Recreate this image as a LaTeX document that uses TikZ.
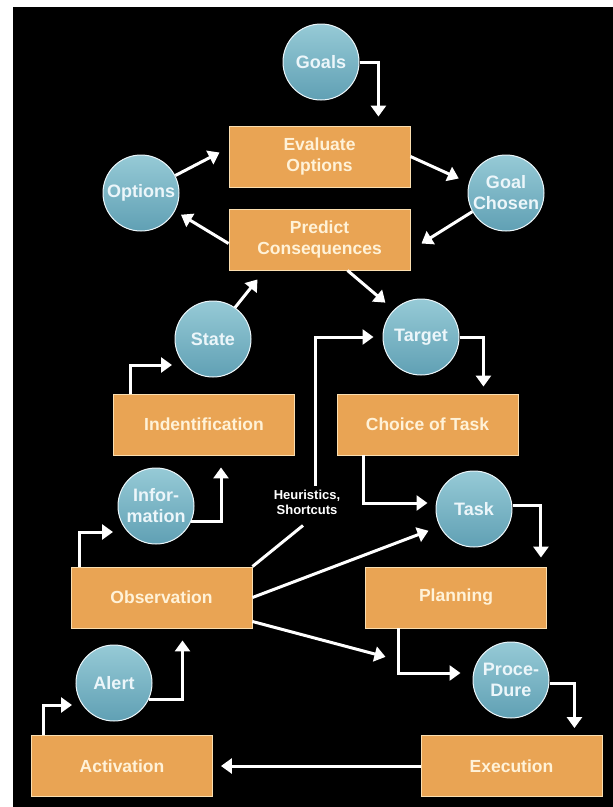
\documentclass[tikz,border=0pt]{standalone}
\usepackage{fontspec}
\setmainfont{Liberation Sans}
\usepackage{tikz}
\usetikzlibrary{arrows.meta, positioning, calc}
\definecolor{myorange}{RGB}{233,164,84}
\definecolor{myedge}{RGB}{250,222,176}
\definecolor{mybluetop}{RGB}{150,202,214}
\definecolor{mybluebot}{RGB}{96,160,180}
\definecolor{mytext}{RGB}{255,242,216}
\definecolor{mycirctext}{RGB}{236,246,250}
\tikzset{
  box/.style={rectangle, draw=myedge, fill=myorange, line width=0.9pt,
    minimum width=181pt, minimum height=61pt, align=center,
    font=\fontsize{17.5}{21}\selectfont\bfseries, text=mytext, inner sep=0pt},
  circ/.style={circle, draw=mycirctext, top color=mybluetop, bottom color=mybluebot,
    line width=1pt, minimum size=76pt, inner sep=0pt, align=center,
    font=\fontsize{18}{21}\selectfont\bfseries, text=mycirctext},
  arrow/.style={-{Triangle[width=15pt,length=11pt]}, line width=3pt, color=white},
  line/.style={line width=3pt, color=white}
}
\begin{document}
\begin{tikzpicture}[x=1pt, y=-1pt]
  \useasboundingbox (0,0) rectangle (613,807);
  \fill[white] (0,0) rectangle (613,807);
  \fill[black] (13,7) rectangle (613,807);
  % Decision part
  \node[circ] (goals) at (321,62) {Goals};
  \node[box] (evaluate) at (319.5,156.5) {Evaluate\\Options};
  \node[box] (predict) at (319.5,239.5) {Predict\\Consequences};
  \node[circ] (options) at (141,193) {Options};
  \node[circ] (chosen) at (506,193) {Goal\\Chosen};
  % Middle row
  \node[circ] (state) at (213,339) {State};
  \node[circ] (target) at (421,337) {Target};
  \node[box] (ident) at (204,424.5) {Indentification};
  \node[box] (choice) at (427.5,424.5) {Choice of Task};
  \node[circ] (info) at (156,506) {Infor-\\mation};
  \node[circ] (task) at (474,509) {Task};
  \node[font=\fontsize{13}{15}\selectfont\bfseries, text=white, align=center,
    inner sep=0pt] (heur) at (307,502) {Heuristics,\\Shortcuts};
  \node[box] (obs) at (161.5,597.5) {Observation};
  \node[box] (plan) at (456,597.5) {Planning};
  % Bottom row
  \node[circ] (alert) at (114,683) {Alert};
  \node[circ] (proc) at (511,680) {Proce-\\Dure};
  \node[box] (act) at (122,766) {Activation};
  \node[box] (exec) at (511.5,766) {Execution};

  % Connectors
  \draw[arrow] (goals.east) -| ([xshift=-32pt,yshift=9pt]evaluate.north east);
  \draw[arrow] (options.27) -- ([xshift=-9pt,yshift=4pt]evaluate.west);
  \draw[arrow, shorten >=7pt] ([yshift=-4pt]predict.west) -- (options.-28);
  \draw[arrow, shorten >=11pt] (evaluate.east) -- (chosen.165);
  \draw[arrow] (chosen.209) -- ([xshift=11pt,yshift=-4pt]predict.east);
  \draw[arrow, shorten >=11pt] ([xshift=28pt]predict.south) -- (target.135);
  \draw[arrow] (state.55) -- ([xshift=-62pt,yshift=-9pt]predict.south);
  \draw[arrow] ([xshift=17pt]ident.north west) |- ([xshift=-41pt,yshift=-26pt]state.center);
  \draw[arrow] (target.east) -| ([xshift=-35pt,yshift=7pt]choice.north east);
  \draw[arrow] ([xshift=8pt,yshift=4pt]heur.north) |- ([xshift=-9pt]target.west);
  \draw[line] (obs.north east) -- ([xshift=-4pt,yshift=-11pt]heur.south);
  \draw[arrow, shorten >=12pt] (obs.east) -- (task.207);
  \draw[arrow, shorten >=90pt] ([yshift=-24pt]obs.east) -- (proc.west);
  \draw[arrow] ([xshift=27pt]choice.south west) |- ([xshift=-8pt,yshift=6pt]task.west);
  \draw[arrow] ([yshift=4pt]task.east) -| ([xshift=-6pt,yshift=9pt]plan.north east);
  \draw[arrow] (info.-23) -| ([xshift=17pt,yshift=-12pt]ident.south);
  \draw[arrow] ([xshift=9pt]obs.north west) |- ([xshift=-43pt,yshift=-26pt]info.center);
  \draw[arrow] (alert.-25) -| ([xshift=21pt,yshift=-12pt]obs.south);
  \draw[arrow] ([xshift=12pt]act.north west) |- ([xshift=-42pt,yshift=-22pt]alert.center);
  \draw[arrow] ([xshift=33pt]plan.south west) |- ([xshift=-12pt,yshift=7pt]proc.west);
  \draw[arrow] ([yshift=-3pt]proc.east) -| ([xshift=-28pt,yshift=7pt]exec.north east);
  \draw[arrow] (exec.west) -- ([xshift=8pt]act.east);
\end{tikzpicture}
\end{document}
